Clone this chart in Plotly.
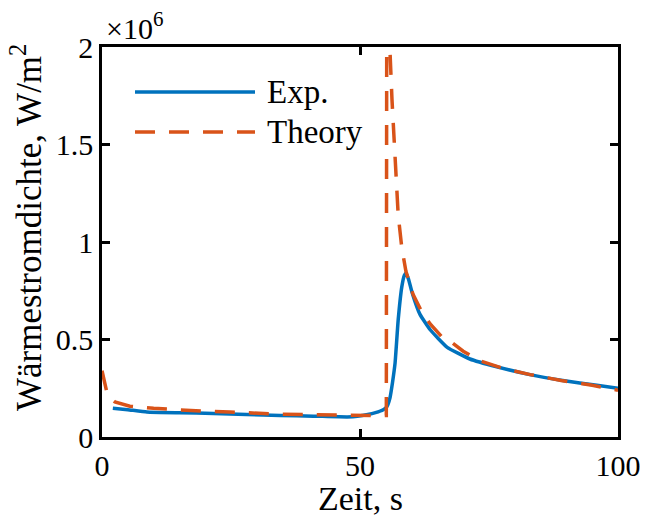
import plotly.graph_objects as go

# Time (s) and heat flux density (x10^6 W/m^2)
exp_t = [2.1, 5, 8.7, 15, 21.6, 28, 34.5, 41, 47.5, 49.5, 51.5, 53, 54.5, 55.2, 55.8, 56.3, 56.8,
         57.4, 58.1, 58.6, 58.9, 59.4, 60.1, 61.6, 63.6, 66.9, 71.3, 76.5, 82.9, 89.3, 95.9, 100]
exp_q = [0.148, 0.14, 0.128, 0.124, 0.121, 0.115, 0.110, 0.107, 0.103, 0.106, 0.115, 0.125, 0.14,
         0.155, 0.20, 0.28, 0.38, 0.60, 0.77, 0.83, 0.84, 0.81, 0.74, 0.63, 0.55, 0.46, 0.40, 0.36,
         0.32, 0.29, 0.265, 0.25]

th_t = [0, 0.5, 1.1, 2.5, 5.4, 10, 15, 20, 24.8, 30, 34.5, 41, 47, 55.1, 55.2, 55.7, 56.2, 56.8,
        57.4, 58.1, 58.9, 60.3, 62, 63.6, 66, 68, 70, 73.3, 78, 83, 89, 95, 100]
th_q = [0.34, 0.27, 0.21, 0.18, 0.158, 0.147, 0.138, 0.132, 0.128, 0.122, 0.117, 0.114, 0.112,
        0.110, 2.6, 2.05, 1.73, 1.40, 1.14, 0.97, 0.85, 0.73, 0.64, 0.58, 0.51, 0.48, 0.44, 0.39,
        0.35, 0.32, 0.29, 0.265, 0.24]

x_ticks = [0, 50, 100]
y_ticks = [0, 0.5, 1, 1.5, 2]
y_tick_text = ["0", "0.5", "1", "1.5", "2"]

BLUE = "#0072BD"
ORANGE = "#D95319"
FONT = "Liberation Serif"

fig = go.Figure()
fig.add_trace(go.Scatter(x=exp_t, y=exp_q, mode="lines", name="Exp.",
                         line=dict(color=BLUE, width=3.5, shape="spline", smoothing=0.4),
                         showlegend=False))
fig.add_trace(go.Scatter(x=th_t, y=th_q, mode="lines", name="Theory",
                         line=dict(color=ORANGE, width=3.5, dash="20px,14px"), showlegend=False))

L, R, T, B = 102, 27, 47, 80
W, H = 645, 517
pw, ph = W - L - R, H - T - B

def px(x):
    return (x - L) / pw

def py(y):
    return (H - B - y) / ph

# legend drawn manually (long sample lines as in the original)
fig.add_shape(type="line", xref="paper", yref="paper", x0=px(135), x1=px(255), y0=py(92), y1=py(92),
              line=dict(color=BLUE, width=3.5))
fig.add_shape(type="line", xref="paper", yref="paper", x0=px(135), x1=px(255), y0=py(132), y1=py(132),
              line=dict(color=ORANGE, width=3.5, dash="20px,14px"))
fig.add_annotation(text="Exp.", xref="paper", yref="paper", x=px(265), y=py(92), xanchor="left",
                   yanchor="middle", showarrow=False, font=dict(family=FONT, size=33, color="black"))
fig.add_annotation(text="Theory", xref="paper", yref="paper", x=px(265), y=py(132), xanchor="left",
                   yanchor="middle", showarrow=False, font=dict(family=FONT, size=33, color="black"))

# axis titles and exponent
fig.add_annotation(text="Wärmestromdichte, W/m<sup>2</sup>", xref="paper", yref="paper",
                   x=px(26), y=py(228), textangle=-90, xanchor="center", yanchor="middle",
                   showarrow=False, font=dict(family=FONT, size=35, color="black"))
fig.add_annotation(text="Zeit, s", xref="paper", yref="paper", x=0.5, y=py(499),
                   xanchor="center", yanchor="middle", showarrow=False,
                   font=dict(family=FONT, size=34, color="black"))
fig.add_annotation(text="×10<sup>6</sup>", xref="paper", yref="paper", x=px(104), y=py(26),
                   xanchor="left", yanchor="middle", showarrow=False,
                   font=dict(family=FONT, size=30, color="black"))

axis_common = dict(showline=True, mirror="ticks", linecolor="black", linewidth=2.5,
                   ticks="inside", ticklen=8, tickwidth=2.5, tickcolor="black",
                   showgrid=False, zeroline=False, automargin=False,
                   tickfont=dict(family=FONT, size=30, color="black"))

fig.update_xaxes(range=[0, 100], tickvals=x_ticks, **axis_common)
fig.update_yaxes(range=[0, 2], tickvals=y_ticks, ticktext=y_tick_text, **axis_common)

fig.update_layout(width=W, height=H, margin=dict(l=L, r=R, t=T, b=B),
                  plot_bgcolor="white", paper_bgcolor="white", autosize=False)

post = ("document.body.style.margin='0px';document.body.style.overflow='hidden';"
        "var gd=document.getElementById('{plot_id}');"
        "Plotly.relayout(gd,{width:645,height:517});")
fig.write_html("out.html", post_script=post,
               config={"responsive": False, "displayModeBar": False})
